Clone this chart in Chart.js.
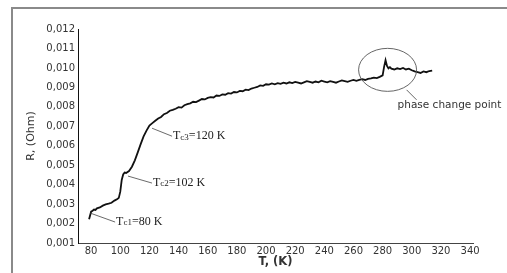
<!DOCTYPE html>
<html>
<head>
<meta charset="utf-8">
<script src="https://cdn.jsdelivr.net/npm/chart.js@4"></script>
<style>
    html, body { margin: 0; padding: 0; background: #fff; }
    #wrap { position: relative; width: 507px; height: 273px; }
    #frame {
        position: absolute; left: 11px; top: 7px; width: 500px; height: 270px;
        border-left: 2px solid #8a8a8a; border-top: 2px solid #8a8a8a;
        pointer-events: none;
    }
</style>
</head>
<body>
<div id="wrap">
    <canvas id="rtChart" width="507" height="273"></canvas>
    <div id="frame"></div>
</div>
<script>
// temperature (K) and resistance (Ohm)
const temps = [
    78.6, 80, 81, 82, 83, 84, 86, 88, 90, 92, 94, 96, 98, 99, 100, 101, 102, 103, 104, 106, 108,
    110, 112, 114, 116, 118, 120, 122, 124, 126, 128, 130, 132, 134, 136, 138, 140, 142, 144, 146,
    148, 150, 152, 154, 156, 158, 160, 162, 164, 166, 168, 170, 172, 174, 176, 178, 180, 182, 184,
    186, 188, 190, 192, 194, 196, 198, 200, 202, 204, 206, 208, 210, 212, 214, 216, 218, 220, 222,
    224, 226, 228, 230, 232, 234, 236, 238, 240, 242, 244, 246, 248, 250, 252, 254, 256, 258, 260,
    262, 264, 266, 268, 270, 272, 274, 276, 278, 280, 281, 282, 283, 284, 285, 286, 288, 290, 292,
    294, 296, 298, 300, 302, 304, 306, 308, 310, 312, 314
];
const resistance = [
    0.00222, 0.00261, 0.00266, 0.00272, 0.00270, 0.00278, 0.00283, 0.00292, 0.00298, 0.00302, 0.00307,
    0.00318, 0.00326, 0.00332, 0.00364, 0.00424, 0.00452, 0.00462, 0.00460, 0.00470, 0.00492,
    0.00525, 0.00566, 0.00608, 0.00648, 0.00678, 0.00704, 0.00716, 0.00728, 0.00740, 0.00748,
    0.00762, 0.00768, 0.00780, 0.00784, 0.00790, 0.00798, 0.00796, 0.00808, 0.00814,
    0.00818, 0.00826, 0.00824, 0.00832, 0.00840, 0.00838, 0.00846, 0.00850, 0.00848, 0.00858,
    0.00856, 0.00864, 0.00862, 0.00870, 0.00868, 0.00876, 0.00874, 0.00882, 0.00880,
    0.00888, 0.00886, 0.00894, 0.00898, 0.00902, 0.00910, 0.00908, 0.00916, 0.00914, 0.00920,
    0.00916, 0.00922, 0.00918, 0.00924, 0.00920, 0.00926, 0.00922, 0.00928, 0.00924,
    0.00920, 0.00926, 0.00932, 0.00928, 0.00924, 0.00930, 0.00926, 0.00934, 0.00930, 0.00926,
    0.00932, 0.00928, 0.00924, 0.00930, 0.00936, 0.00932, 0.00928, 0.00934, 0.00938,
    0.00934, 0.00938, 0.00942, 0.00938, 0.00944, 0.00946, 0.00950, 0.00948, 0.00954, 0.00962,
    0.01005, 0.01040, 0.01010, 0.00998, 0.01004, 0.00996, 0.00992, 0.00998, 0.00994,
    0.01000, 0.00992, 0.00996, 0.00988, 0.00982, 0.00978, 0.00974, 0.00982, 0.00978, 0.00984, 0.00986
];

const xTicks = [80, 100, 120, 140, 160, 180, 200, 220, 240, 260, 280, 300, 320, 340];
const yTicks = [0.001, 0.002, 0.003, 0.004, 0.005, 0.006, 0.007, 0.008, 0.009, 0.010, 0.011, 0.012];

// critical temperature notes
const noteSub = ['c1', 'c2', 'c3'];
const noteRest = ['=80 K', '=102 K', '=120 K'];
const noteT = [79.3, 105.3, 121.8];
const noteR = [0.00254, 0.00444, 0.0069];

// phase change circle
const phaseLabel = 'phase change point';
const phaseT = 283.4;
const phaseR = 0.0099;

const noteOffsets = [[25, 9], [24, 7], [20, 8]]; // leader line ends, px

const notesPlugin = {
    id: 'notes',
    afterDatasetsDraw(chart) {
        const { ctx, scales: { x, y }, chartArea } = chart;
        ctx.save();
        ctx.strokeStyle = '#444';
        ctx.lineWidth = 0.8;
        ctx.fillStyle = '#222';
        ctx.textBaseline = 'middle';

        noteSub.forEach((sub, i) => {
            const px = x.getPixelForValue(noteT[i]);
            const py = y.getPixelForValue(noteR[i]);
            const ex = px + noteOffsets[i][0];
            const ey = py + noteOffsets[i][1];
            ctx.beginPath();
            ctx.moveTo(px, py);
            ctx.lineTo(ex, ey);
            ctx.stroke();

            let tx = ex + 1;
            ctx.font = '12px "Liberation Serif", serif';
            ctx.fillText('T', tx, ey);
            tx += ctx.measureText('T').width;
            ctx.font = '9px "Liberation Serif", serif';
            ctx.fillText(sub, tx, ey + 1);
            tx += ctx.measureText(sub).width;
            ctx.font = '12px "Liberation Serif", serif';
            ctx.fillText(noteRest[i], tx, ey);
        });

        // ellipse around the spike
        const cx = x.getPixelForValue(phaseT);
        const cy = y.getPixelForValue(phaseR);
        ctx.strokeStyle = '#555';
        ctx.lineWidth = 0.9;
        ctx.beginPath();
        ctx.ellipse(cx, cy, 29, 21.5, 0, 0, Math.PI * 2);
        ctx.stroke();
        ctx.beginPath();
        ctx.moveTo(cx + 19, cy + 20);
        ctx.lineTo(cx + 29, cy + 30);
        ctx.stroke();
        ctx.fillStyle = '#333';
        ctx.font = '10.5px "DejaVu Sans", sans-serif';
        ctx.fillText(phaseLabel, cx + 10, cy + 35);

        // axis titles
        ctx.fillStyle = '#333';
        ctx.textAlign = 'center';
        ctx.font = 'bold 11.5px "DejaVu Sans", sans-serif';
        ctx.fillText('T, (K)', (chartArea.left + chartArea.right) / 2, 262);
        ctx.translate(31, (chartArea.top + chartArea.bottom) / 2);
        ctx.rotate(-Math.PI / 2);
        ctx.font = '11px "DejaVu Sans", sans-serif';
        ctx.fillText('R, (Ohm)', 0, 0);
        ctx.restore();
    }
};

const tickFont = { family: '"DejaVu Sans", sans-serif', size: 10 };

new Chart(document.getElementById('rtChart'), {
    type: 'line',
    data: {
        labels: temps,
        datasets: [{
            data: temps.map((t, i) => ({ x: t, y: resistance[i] })),
            borderColor: '#111',
            borderWidth: 1.8,
            pointRadius: 0,
            tension: 0
        }]
    },
    options: {
        responsive: false,
        animation: false,
        layout: { padding: { top: 29, right: 34, left: 0, bottom: 0 } },
        plugins: {
            legend: { display: false },
            tooltip: { enabled: false }
        },
        scales: {
            x: {
                type: 'linear',
                min: 71,
                max: 342,
                afterBuildTicks: scale => { scale.ticks = xTicks.map(v => ({ value: v })); },
                afterFit: scale => { scale.height = 30; },
                grid: { display: false, drawTicks: false },
                border: { display: true, color: '#444', width: 1 },
                ticks: { color: '#333', font: tickFont, padding: 2, maxRotation: 0, autoSkip: false }
            },
            y: {
                min: 0.001,
                max: 0.012,
                afterBuildTicks: scale => { scale.ticks = yTicks.map(v => ({ value: v })); },
                afterFit: scale => { scale.width = 78; },
                grid: { display: false, drawTicks: false },
                border: { display: true, color: '#111', width: 1 },
                ticks: {
                    color: '#333', font: tickFont, padding: 3, autoSkip: false,
                    callback: v => v.toFixed(3).replace('.', ',')
                }
            }
        }
    },
    plugins: [notesPlugin]
});
</script>
</body>
</html>
